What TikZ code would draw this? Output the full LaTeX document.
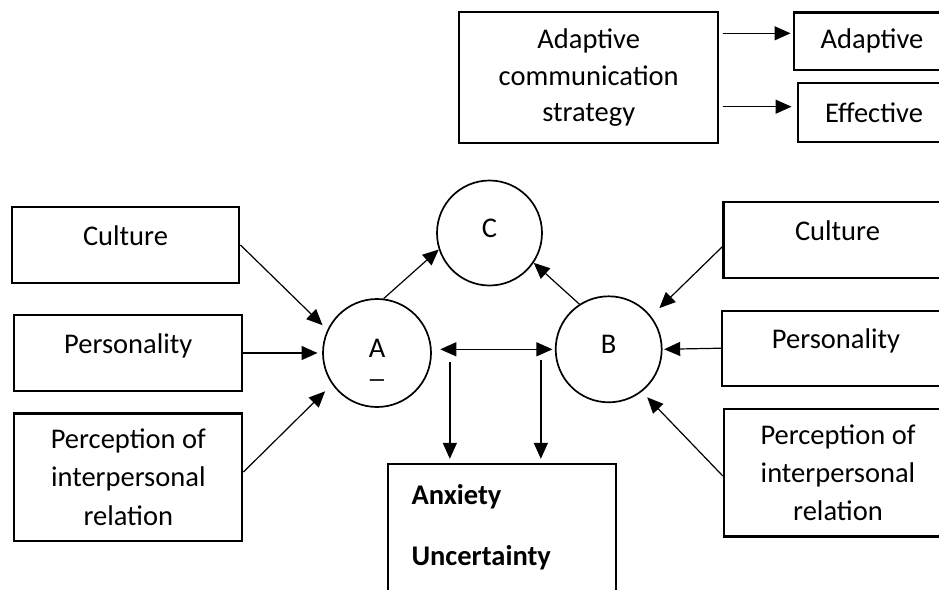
\documentclass[tikz,border=0pt]{standalone}
\usepackage{fontspec}
\setmainfont{Carlito}
\usepackage{tikz}
\usetikzlibrary{arrows.meta, positioning, calc}
\tikzstyle{box} = [rectangle, draw=black, line width=1.15pt, minimum width=114pt, minimum height=38pt, text centered, inner sep=2pt, font=\fontsize{14.25}{18.75}\selectfont]
\tikzstyle{oneline} = [box, text height=10pt, text depth=10pt]
\tikzstyle{threeline} = [box, minimum height=63.8pt, align=center, font=\fontsize{14.25}{19.2}\selectfont]
\tikzstyle{person} = [circle, draw=black, line width=0.85pt, minimum size=53pt, inner sep=0pt, text height=9pt, text depth=4.5pt, font=\fontsize{14.25}{18.75}\selectfont]
\tikzstyle{arrow} = [line width=0.6pt, -{Triangle[length=8pt, width=7pt]}, draw=black]
\tikzstyle{dblarrow} = [line width=0.6pt, {Triangle[length=8pt, width=7pt]}-{Triangle[length=8pt, width=7pt]}, draw=black]

\begin{document}
\begin{tikzpicture}[x=0.5pt, y=-0.5pt]
    \useasboundingbox (0,0) rectangle (939,590);

    % strategy and its outcomes
    \node (strategy) [box, align=center, minimum width=129.6pt, minimum height=65.5pt, font=\fontsize{14.25}{18.2}\selectfont] at (588.7,77.8) {Adaptive\\communication\\strategy};
    \node (adaptive) [box, minimum width=77.7pt, minimum height=28.7pt] at (872,41.3) {Adaptive};
    \node (effective) [box, minimum width=75.7pt, minimum height=29.2pt] at (874,112.5) {Effective};

    % the three persons
    \node (A) [person, minimum size=54pt] at (377,353) {\makebox[0pt]{A}\makebox[0pt]{\raisebox{-10pt}{\_}}};
    \node (B) [person] at (608.7,349.3) {B};
    \node (C) [person, minimum size=52.5pt] at (489.5,233) {C};

    % left factors
    \node (cultureL) [oneline, minimum width=113.8pt, minimum height=38.3pt] at (125.5,245) {Culture};
    \node (personalityL) [oneline] at (128.3,353) {Personality};
    \node (perceptionL) [threeline] at (128.3,477.2) {Perception of\\interpersonal\\relation};

    % right factors
    \node (cultureR) [oneline] at (837.5,240.3) {Culture};
    \node (personalityR) [oneline, minimum height=37.5pt] at (836,348.2) {Personality};
    \node (perceptionR) [threeline] at (838,472.8) {Perception of\\interpersonal\\relation};

    % outcome box
    \node (anx) [box, minimum width=113.9pt, minimum height=88pt] at (502.2,552) {};
    \node (anxtext) [anchor=north west, inner sep=0pt, align=left, font=\fontsize{14.25}{18.75}\selectfont\bfseries] at ([shift={(12pt,-10.8pt)}]anx.north west) {Anxiety\\[11.75pt]Uncertainty};

    \coordinate (adin) at ([yshift=4pt]adaptive.west);
    \coordinate (efin) at ([yshift=2.9pt]effective.west);
    \coordinate (av1) at ([shift={(9pt,-4.35pt)}]A.east);
    \coordinate (av2) at ([shift={(-7pt,-5.35pt)}]B.west);

    \draw [arrow, shorten <=1.7pt, shorten >=1.3pt] (strategy.east |- adin) -- (adin);
    \draw [arrow, shorten <=1.7pt, shorten >=2.8pt] (strategy.east |- efin) -- (efin);

    \draw [arrow, shorten >=3.3pt] (cultureL.east) -- (A.155.9);
    \draw [arrow, shorten >=2.3pt] (personalityL.east) -- (A.west);
    \draw [arrow, shorten >=4.9pt] ([yshift=2.6pt]perceptionL.east) -- (A.215.4);

    \draw [arrow, shorten >=5.75pt] ([yshift=-3.2pt]cultureR.west) -- (B.38.3);
    \draw [arrow, shorten >=0.8pt] (personalityR.west) -- (B.east);
    \draw [arrow, shorten >=3.85pt] ([yshift=-1.6pt]perceptionR.west) -- (B.308.7);

    \draw [arrow] (A.83.5) -- (C.198.4);
    \draw [arrow] (B.123) -- (C.326.8);
    \draw [dblarrow, shorten <=4.2pt, shorten >=1.2pt] (A.east |- B.west) -- (B.west);

    \draw [arrow, line width=0.75pt, shorten >=2pt] (av1) -- (av1 |- anx.north);
    \draw [arrow, line width=0.75pt, shorten >=2pt] (av2) -- (av2 |- anx.north);
\end{tikzpicture}
\end{document}
